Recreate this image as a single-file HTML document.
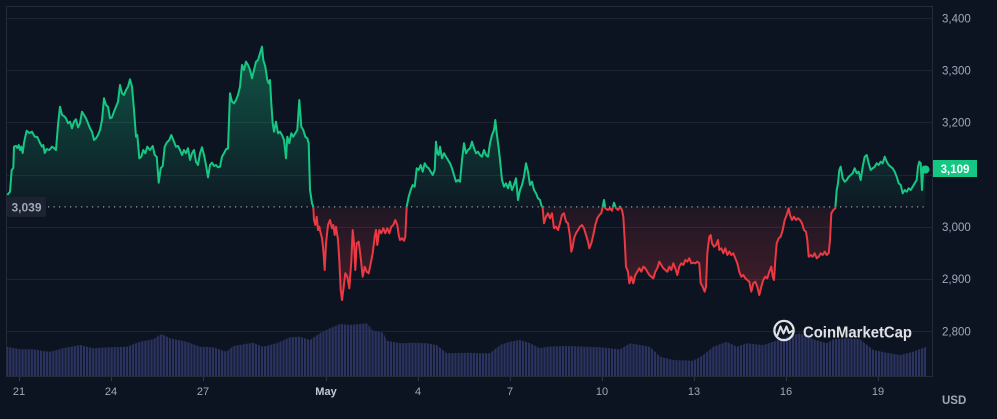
<!DOCTYPE html>
<html><head><meta charset="utf-8"><style>
html,body{margin:0;padding:0;background:#0d1421;}
svg{display:block;font-family:"Liberation Sans",sans-serif;}
</style></head><body>
<svg width="997" height="419" viewBox="0 0 997 419" xmlns="http://www.w3.org/2000/svg" xmlns:xlink="http://www.w3.org/1999/xlink">
<defs>
<clipPath id="above"><rect x="0" y="0" width="933" height="206.9"/></clipPath>
<clipPath id="below"><rect x="0" y="206.9" width="933" height="200"/></clipPath>
<linearGradient id="gfill" gradientUnits="userSpaceOnUse" x1="0" y1="45" x2="0" y2="207">
<stop offset="0" stop-color="#16c784" stop-opacity="0.38"/>
<stop offset="1" stop-color="#16c784" stop-opacity="0.03"/>
</linearGradient>
<linearGradient id="rfill" gradientUnits="userSpaceOnUse" x1="0" y1="207" x2="0" y2="300">
<stop offset="0" stop-color="#ea3943" stop-opacity="0.08"/>
<stop offset="1" stop-color="#ea3943" stop-opacity="0.25"/>
</linearGradient>
<pattern id="vs" width="3.07" height="20" patternUnits="userSpaceOnUse">
<rect x="0" y="0" width="2.2" height="20" fill="#2b3360"/>
</pattern>
<polygon id="fp" points="7.3,206.9 7.3,195 10,191.7 11.7,170 13.3,168 14,146.7 16,146 17.3,148 18.7,145 20,150 21.3,146.7 22.7,153 24,143 25.3,136.7 26.7,130.7 29.3,133 32,131.7 34.7,136.7 37.3,137 40,143 42,146.7 43.3,145 44.7,153 46.7,149 49.3,150 52,146.7 54,148 56,150 58,125 60,106.7 62,115 64,116 66,118.3 68,123.3 70,121.7 72,128.3 74,121.7 76,119.3 78,127.3 80,123.3 82,111.7 84,115 86,118.3 88,123.3 90,128.3 92,131.7 94,140 96,138.3 98,135 100,130 102,120 104,98.3 106,105 108,106.7 110,118.3 112,117.3 114,111.7 116,106.7 118,101.7 120,85 122,93.3 124,95 126,90 128,86.7 130,79.3 132,86.7 134,110 136,136.7 137.3,135 139.3,158.3 141.3,156.7 143.3,150 145.3,153.3 147.3,146.7 150,150 152.7,146 154.7,155 156.7,156.7 158.7,182.7 160.7,168.3 162.7,166 164.7,146.7 166.7,142.7 169.3,140 171.3,135 173.3,140 176,146.7 178,146 180,150 182,155 184,150 186,153.3 188,148.3 190,160 192,153.3 194,150 196,161.7 198,165 200,153.3 202,147.3 204,155 206,165 208,177.3 210,165 212,162.7 214,166 216,165 218,167.3 220,166.7 222,156.7 224,153.3 226,149.3 228,148.3 230,93.3 232,101.7 234,103.3 236,100 238,95 240,86.7 242,65 244,70 246,61.7 248,65 250,70 252,78.3 254,70 256,61.7 258,60 260,53.3 262,46.7 263.3,60 265.3,66.7 267.3,80 268.7,83.3 270,80 271.3,103.3 272.7,123.3 274,131.7 276,121.7 278,133.3 280,131.7 282,135 284,140 286,158.3 287.3,136.7 289.3,143.3 291.3,133.3 293.3,136.7 295.3,133.3 297.3,130 299.3,100 301.3,126.7 303.3,130 305.3,136.7 307.3,138.3 308.7,143.3 310,190 312,203.3 313.3,206.7 314,220 315.3,225 316.7,216.7 318,230 319.3,226.7 320.7,233.3 322,238.3 323.3,250 324.7,270 326,243.3 328,225 330,220 332,228.3 333.3,225 334.7,235 336,226.7 338,240 339.3,260 340.7,290 342,300 343.3,290 345.3,273.3 347.3,276.7 349.3,288.3 351.3,261.7 352.7,230 354,243.3 355.3,270 356.7,243.3 358.7,241.7 360,251.7 361.3,263.3 362.7,276.7 364.7,266.7 366.7,271.7 368.7,273.3 370.7,263.3 372.7,253.3 374.7,236.7 376,230 377.3,245 379.3,230 381.3,233.3 383.3,228.3 385.3,233.3 387.3,228.3 389.3,233.3 391.3,226.7 393.3,225 395.3,220 397.3,225 398.7,235 400,240 402,238.3 404,240.7 405.3,236.7 406.7,206.7 408.7,196.7 410.7,190 412.7,185 414.7,186.7 416.7,168.3 418.7,170 420.7,165 422.7,171.7 424.7,163.3 426.7,166.7 428.7,168.3 430.7,171.7 432.7,175 434.7,170 436,141.7 437.3,153.3 438.7,155 440,146.7 442,158.3 444,153.3 446,156.7 448,160 450,163.3 452,168.3 454,175 456,181.7 458,180 460,181.7 462,160 464,143.3 466,153.3 468,150 470,148.3 472,141.7 474,148.3 476,153.3 478,151.7 480,155 482,156.7 484,150 486,155 488,156.7 490,143.3 492,135 494,130 495.3,120 496.7,133.3 498.7,148.3 500,160 502,180 504,186.7 506,183.3 508,188.3 510,181.7 512,190 514,185 516,178.3 518,200 520,190 522,185 524,176.7 526,163.3 528,171.7 530,185 532,181.7 534,190 536,193.3 538,198.3 540,200 541.3,205 542.7,208.3 544,223.3 546,216.7 548,213.3 550,218.3 552,213.3 554,228.3 556,226.7 558,230 560,223.3 562,215 564,213.3 566,221.7 568,223.3 570,236.7 571.3,251.7 572.7,246.7 574,238.3 576,233.3 578,230 580,226.7 582,225 584,228.3 586,235 588,241.7 589.3,248.3 591.3,243.3 593.3,235 595.3,225 597.3,218.3 599.3,215 601.3,213.3 602.7,206.7 604,200 605.3,208.3 608,210 610,208.3 612,210.7 614,202.7 616,208.3 618,210 620,206.7 622,210 623.3,216.7 624.7,240 626,266.7 628,271.7 629.3,283.3 631.3,276.7 633.3,283.3 635.3,275 637.3,271.7 639.3,268.3 641.3,271.7 643.3,266.7 645.3,268.3 647.3,271.7 649.3,275 651.3,276.7 653.3,278.3 655.3,271.7 657.3,268.3 659.3,261.7 661.3,265 663.3,268.3 665.3,270 667.3,271.7 669.3,266.7 671.3,270 673.3,263.3 675.3,268.3 677.3,275 679.3,266.7 681.3,263.3 683.3,265 685.3,260 687.3,261.7 689.3,258.3 691.3,263.3 693.3,262.7 695.3,263.3 697.3,261.7 699.3,263.3 700.7,283.3 702.7,286.7 704.7,291.7 706,286.7 707.3,253.3 709.3,236.7 710.7,235 712,243.3 714,246.7 716,245 718,240 719.3,250 721.3,248.3 723.3,253.3 725.3,248.3 727.3,255 729.3,251.7 731.3,255 733.3,253.3 735.3,258.3 737.3,263.3 739.3,271.7 741.3,276.7 743.3,275 745.3,278.3 747.3,280 749.3,281.7 751.3,291.7 753.3,283.3 755.3,281.7 757.3,286.7 759.3,295 761.3,286.7 763.3,280 765.3,276.7 767.3,278.3 769.3,271.7 771.3,266.7 772.7,276.7 774,280 775.3,260 776.7,243.3 778.7,238.3 780.7,236.7 782.7,230 784.7,220 786.7,215 788.7,208.3 790,215 792,220 794,216.7 796,220 798,218.3 800,220 802,223.3 804,230 806,231.7 807.3,240 808.7,256.7 810.7,255 812.7,256.7 814.7,253.3 816.7,258.3 818.7,256.7 820.7,253.3 822.7,255 824.7,251.7 826.7,255 828.7,253.3 830,240 831.3,213.3 833.3,210 835.3,208.3 836.7,190 838,183.3 839.3,170 840.7,166.7 842.7,178.3 844.7,181.7 846.7,180 848.7,176.7 850.7,175 852.7,173.3 854.7,168.3 856.7,173.3 858.7,171.7 860.7,180 862.7,166.7 864.7,156.7 866.7,155 868.7,163.3 870.7,170 872.7,168.3 874.7,166.7 876.7,163.3 878.7,165 880.7,161.7 882.7,163.3 884.7,156.7 886.7,161.7 888.7,165 890.7,166.7 892.7,168.3 894.7,171.7 896.7,176.7 898.7,183.3 900.7,185 902.7,193.3 904.7,190 906.7,191.7 908.7,188.3 910.7,190 912.7,186.7 914.7,183.3 916.7,180 918,166.7 919.3,161.7 920.7,163.3 922,190 923.3,166.7 924.7,170 925.5,169.5 925.5,206.9"/>
<polyline id="pl" points="7.3,195 10,191.7 11.7,170 13.3,168 14,146.7 16,146 17.3,148 18.7,145 20,150 21.3,146.7 22.7,153 24,143 25.3,136.7 26.7,130.7 29.3,133 32,131.7 34.7,136.7 37.3,137 40,143 42,146.7 43.3,145 44.7,153 46.7,149 49.3,150 52,146.7 54,148 56,150 58,125 60,106.7 62,115 64,116 66,118.3 68,123.3 70,121.7 72,128.3 74,121.7 76,119.3 78,127.3 80,123.3 82,111.7 84,115 86,118.3 88,123.3 90,128.3 92,131.7 94,140 96,138.3 98,135 100,130 102,120 104,98.3 106,105 108,106.7 110,118.3 112,117.3 114,111.7 116,106.7 118,101.7 120,85 122,93.3 124,95 126,90 128,86.7 130,79.3 132,86.7 134,110 136,136.7 137.3,135 139.3,158.3 141.3,156.7 143.3,150 145.3,153.3 147.3,146.7 150,150 152.7,146 154.7,155 156.7,156.7 158.7,182.7 160.7,168.3 162.7,166 164.7,146.7 166.7,142.7 169.3,140 171.3,135 173.3,140 176,146.7 178,146 180,150 182,155 184,150 186,153.3 188,148.3 190,160 192,153.3 194,150 196,161.7 198,165 200,153.3 202,147.3 204,155 206,165 208,177.3 210,165 212,162.7 214,166 216,165 218,167.3 220,166.7 222,156.7 224,153.3 226,149.3 228,148.3 230,93.3 232,101.7 234,103.3 236,100 238,95 240,86.7 242,65 244,70 246,61.7 248,65 250,70 252,78.3 254,70 256,61.7 258,60 260,53.3 262,46.7 263.3,60 265.3,66.7 267.3,80 268.7,83.3 270,80 271.3,103.3 272.7,123.3 274,131.7 276,121.7 278,133.3 280,131.7 282,135 284,140 286,158.3 287.3,136.7 289.3,143.3 291.3,133.3 293.3,136.7 295.3,133.3 297.3,130 299.3,100 301.3,126.7 303.3,130 305.3,136.7 307.3,138.3 308.7,143.3 310,190 312,203.3 313.3,206.7 314,220 315.3,225 316.7,216.7 318,230 319.3,226.7 320.7,233.3 322,238.3 323.3,250 324.7,270 326,243.3 328,225 330,220 332,228.3 333.3,225 334.7,235 336,226.7 338,240 339.3,260 340.7,290 342,300 343.3,290 345.3,273.3 347.3,276.7 349.3,288.3 351.3,261.7 352.7,230 354,243.3 355.3,270 356.7,243.3 358.7,241.7 360,251.7 361.3,263.3 362.7,276.7 364.7,266.7 366.7,271.7 368.7,273.3 370.7,263.3 372.7,253.3 374.7,236.7 376,230 377.3,245 379.3,230 381.3,233.3 383.3,228.3 385.3,233.3 387.3,228.3 389.3,233.3 391.3,226.7 393.3,225 395.3,220 397.3,225 398.7,235 400,240 402,238.3 404,240.7 405.3,236.7 406.7,206.7 408.7,196.7 410.7,190 412.7,185 414.7,186.7 416.7,168.3 418.7,170 420.7,165 422.7,171.7 424.7,163.3 426.7,166.7 428.7,168.3 430.7,171.7 432.7,175 434.7,170 436,141.7 437.3,153.3 438.7,155 440,146.7 442,158.3 444,153.3 446,156.7 448,160 450,163.3 452,168.3 454,175 456,181.7 458,180 460,181.7 462,160 464,143.3 466,153.3 468,150 470,148.3 472,141.7 474,148.3 476,153.3 478,151.7 480,155 482,156.7 484,150 486,155 488,156.7 490,143.3 492,135 494,130 495.3,120 496.7,133.3 498.7,148.3 500,160 502,180 504,186.7 506,183.3 508,188.3 510,181.7 512,190 514,185 516,178.3 518,200 520,190 522,185 524,176.7 526,163.3 528,171.7 530,185 532,181.7 534,190 536,193.3 538,198.3 540,200 541.3,205 542.7,208.3 544,223.3 546,216.7 548,213.3 550,218.3 552,213.3 554,228.3 556,226.7 558,230 560,223.3 562,215 564,213.3 566,221.7 568,223.3 570,236.7 571.3,251.7 572.7,246.7 574,238.3 576,233.3 578,230 580,226.7 582,225 584,228.3 586,235 588,241.7 589.3,248.3 591.3,243.3 593.3,235 595.3,225 597.3,218.3 599.3,215 601.3,213.3 602.7,206.7 604,200 605.3,208.3 608,210 610,208.3 612,210.7 614,202.7 616,208.3 618,210 620,206.7 622,210 623.3,216.7 624.7,240 626,266.7 628,271.7 629.3,283.3 631.3,276.7 633.3,283.3 635.3,275 637.3,271.7 639.3,268.3 641.3,271.7 643.3,266.7 645.3,268.3 647.3,271.7 649.3,275 651.3,276.7 653.3,278.3 655.3,271.7 657.3,268.3 659.3,261.7 661.3,265 663.3,268.3 665.3,270 667.3,271.7 669.3,266.7 671.3,270 673.3,263.3 675.3,268.3 677.3,275 679.3,266.7 681.3,263.3 683.3,265 685.3,260 687.3,261.7 689.3,258.3 691.3,263.3 693.3,262.7 695.3,263.3 697.3,261.7 699.3,263.3 700.7,283.3 702.7,286.7 704.7,291.7 706,286.7 707.3,253.3 709.3,236.7 710.7,235 712,243.3 714,246.7 716,245 718,240 719.3,250 721.3,248.3 723.3,253.3 725.3,248.3 727.3,255 729.3,251.7 731.3,255 733.3,253.3 735.3,258.3 737.3,263.3 739.3,271.7 741.3,276.7 743.3,275 745.3,278.3 747.3,280 749.3,281.7 751.3,291.7 753.3,283.3 755.3,281.7 757.3,286.7 759.3,295 761.3,286.7 763.3,280 765.3,276.7 767.3,278.3 769.3,271.7 771.3,266.7 772.7,276.7 774,280 775.3,260 776.7,243.3 778.7,238.3 780.7,236.7 782.7,230 784.7,220 786.7,215 788.7,208.3 790,215 792,220 794,216.7 796,220 798,218.3 800,220 802,223.3 804,230 806,231.7 807.3,240 808.7,256.7 810.7,255 812.7,256.7 814.7,253.3 816.7,258.3 818.7,256.7 820.7,253.3 822.7,255 824.7,251.7 826.7,255 828.7,253.3 830,240 831.3,213.3 833.3,210 835.3,208.3 836.7,190 838,183.3 839.3,170 840.7,166.7 842.7,178.3 844.7,181.7 846.7,180 848.7,176.7 850.7,175 852.7,173.3 854.7,168.3 856.7,173.3 858.7,171.7 860.7,180 862.7,166.7 864.7,156.7 866.7,155 868.7,163.3 870.7,170 872.7,168.3 874.7,166.7 876.7,163.3 878.7,165 880.7,161.7 882.7,163.3 884.7,156.7 886.7,161.7 888.7,165 890.7,166.7 892.7,168.3 894.7,171.7 896.7,176.7 898.7,183.3 900.7,185 902.7,193.3 904.7,190 906.7,191.7 908.7,188.3 910.7,190 912.7,186.7 914.7,183.3 916.7,180 918,166.7 919.3,161.7 920.7,163.3 922,190 923.3,166.7 924.7,170 925.5,169.5"/>
</defs>
<rect width="997" height="419" fill="#0d1421"/>
<!-- grid -->
<g stroke="#1f2433" stroke-width="1">
<line x1="6" y1="18.5" x2="932" y2="18.5"/>
<line x1="6" y1="70.5" x2="932" y2="70.5"/>
<line x1="6" y1="122.5" x2="932" y2="122.5"/>
<line x1="6" y1="175.5" x2="932" y2="175.5"/>
<line x1="6" y1="227.5" x2="932" y2="227.5"/>
<line x1="6" y1="279.5" x2="932" y2="279.5"/>
<line x1="6" y1="331.5" x2="932" y2="331.5"/>
</g>
<g stroke="#262b3a" stroke-width="1" fill="none">
<line x1="6" y1="6.5" x2="933" y2="6.5"/>
<line x1="6.5" y1="6" x2="6.5" y2="376"/>
<line x1="932.5" y1="6" x2="932.5" y2="377"/>
<line x1="6" y1="376.5" x2="933" y2="376.5"/>
</g>
<!-- volume -->
<polygon fill="url(#vs)" points="6.7,376 6.7,346.7 20,349.3 33,349.3 43,351 50,351.7 63,348.3 80,345 93,348.3 110,347.3 127,346.7 140,341.7 153,339.3 161.7,334 170,338.3 186.7,341.7 200,346.7 213,347.3 226.7,351.7 233,346 253,342.7 263,346.7 276.7,343.3 290,337.3 300,336.7 310,340 320,333.3 330,328.3 340,324 350,325 366.7,323.3 373.3,330.7 383.3,332.7 386.7,340.7 400,343.3 413.3,342.7 426.7,343.3 436.7,345 446.7,353.3 466.7,352.7 480,353.3 490,353.3 500,345 510,341.7 520,340 530,343.3 540,348.3 546.7,346.7 566.7,346 586.7,346.7 600,347.3 620,349.3 630,343.3 650,346.7 660,356.7 673.3,360 693.3,360.7 703.3,355 713.3,346.7 726.7,341.7 736.7,346.7 746.7,343.3 763.3,345 773.3,341.7 786.7,336.7 800,333.3 813.3,339.3 826.7,343.3 833.3,339.3 846.7,338.3 860,339.3 873.3,350 886.7,352.7 900,355 913.3,351.7 926,346.7 926,376"/>
<!-- fills -->
<use href="#fp" xlink:href="#fp" clip-path="url(#above)" fill="url(#gfill)"/>
<use href="#fp" xlink:href="#fp" clip-path="url(#below)" fill="url(#rfill)"/>
<!-- dotted baseline -->
<line x1="48" y1="206.9" x2="927" y2="206.9" stroke="#c9ccd6" stroke-width="1.2" stroke-dasharray="1.2 4.3" stroke-opacity="0.75"/>
<!-- line series -->
<use href="#pl" xlink:href="#pl" clip-path="url(#above)" fill="none" stroke="#16c784" stroke-width="2" stroke-linejoin="round"/>
<use href="#pl" xlink:href="#pl" clip-path="url(#below)" fill="none" stroke="#ea3943" stroke-width="2" stroke-linejoin="round"/>
<circle cx="925.5" cy="169.5" r="4" fill="#16c784"/>
<!-- baseline label -->
<rect x="7" y="197" width="39" height="20" rx="2" fill="#1d2230"/>
<text x="26.5" y="211.5" text-anchor="middle" font-size="12" font-weight="bold" fill="#a1a7bb">3,039</text>
<!-- y axis labels -->
<g font-size="11.5" fill="#a1a7bb">
<text x="942" y="22.5">3,400</text>
<text x="942" y="74.5">3,300</text>
<text x="942" y="126.5">3,200</text>
<text x="942" y="231">3,000</text>
<text x="942" y="283">2,900</text>
<text x="942" y="335.5">2,800</text>
</g>
<rect x="933" y="160" width="44" height="17" fill="#16c784"/>
<text x="955" y="172.8" text-anchor="middle" font-size="11.5" font-weight="bold" fill="#ffffff">3,109</text>
<!-- x axis ticks -->
<g stroke="#323546" stroke-width="1">
<line x1="19.5" y1="377" x2="19.5" y2="381"/>
<line x1="111.5" y1="377" x2="111.5" y2="381"/>
<line x1="203.5" y1="377" x2="203.5" y2="381"/>
<line x1="326.5" y1="377" x2="326.5" y2="381"/>
<line x1="418.5" y1="377" x2="418.5" y2="381"/>
<line x1="510.5" y1="377" x2="510.5" y2="381"/>
<line x1="602.5" y1="377" x2="602.5" y2="381"/>
<line x1="694.5" y1="377" x2="694.5" y2="381"/>
<line x1="786.5" y1="377" x2="786.5" y2="381"/>
<line x1="878.5" y1="377" x2="878.5" y2="381"/>
</g>
<g font-size="11" fill="#a1a7bb" text-anchor="middle">
<text x="19" y="395">21</text>
<text x="111" y="395">24</text>
<text x="203" y="395">27</text>
<text x="326" y="395" font-weight="bold" fill="#c3c8d6">May</text>
<text x="418" y="395">4</text>
<text x="510" y="395">7</text>
<text x="602" y="395">10</text>
<text x="694" y="395">13</text>
<text x="786" y="395">16</text>
<text x="878" y="395">19</text>
</g>
<text x="942" y="404" font-size="11.5" font-weight="bold" fill="#a1a7bb">USD</text>
<!-- logo -->
<g opacity="0.92">
<circle cx="784" cy="330.5" r="9.6" fill="none" stroke="#f2f3f6" stroke-width="2.3"/>
<path d="M777.5,335 L780.5,326.5 L783.5,333.5 L786.5,326.5 L789,333 L792,331" fill="none" stroke="#f2f3f6" stroke-width="2" stroke-linejoin="round" stroke-linecap="round"/>
<text x="803" y="337.5" font-size="16" font-weight="bold" fill="#f2f3f6" textLength="109" lengthAdjust="spacingAndGlyphs">CoinMarketCap</text>
</g>
</svg>
</body></html>
